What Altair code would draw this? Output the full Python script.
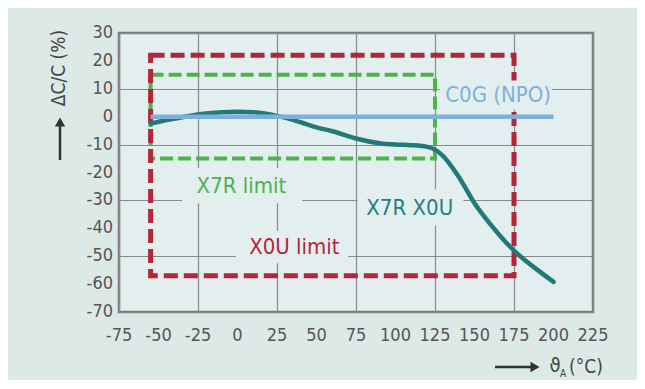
import altair as alt
import pandas as pd

FONT = "'Liberation Sans Narrow', 'DejaVu Sans Condensed', sans-serif"

# X7R X0U capacitance drift curve
temp_x = [-55, -45, -35, -25, -10, 0, 10, 25, 40, 50, 60, 75, 90, 100, 110, 120, 125, 130, 140, 150, 160, 175, 190, 200]
dcc_y = [-2.5, -1.2, -0.2, 0.8, 1.6, 1.8, 1.6, 0.3, -2.0, -3.8, -5.2, -7.8, -9.5, -10.0, -10.2, -10.8, -11.8, -14.0, -21.5, -31.0, -38.5, -48.0, -55.0, -59.2]

# C0G (NPO) line
c0g_x = [-55, 200]
c0g_y = [0, 0]

# limit boxes
x7r_lim_x = [-55, 125]
x7r_lim_y = [-15, 15]
x0u_lim_x = [-55, 175]
x0u_lim_y = [-57, 22]

# labels
label_text = ["C0G (NPO)", "X7R limit", "X7R X0U", "X0U limit"]
label_x = [165, 2.5, 109, 36]
label_y = [7.8, -25.0, -32.6, -46.6]
label_color = ["#7fb0dc", "#4db34a", "#23807e", "#b3263a"]
box_x1 = [128, -35, 76, -1]
box_x2 = [199, 41, 143, 70]
box_y1 = [2.5, -18.5, -26.0, -41.0]
box_y2 = [13.0, -31.0, -39.0, -52.5]

x_ticks = list(range(-75, 226, 25))
y_ticks = list(range(-70, 31, 10))

PLOT_FILL = "#e3eeee"
TICK_COLOR = "#555555"

xs = alt.Scale(domain=[-75, 225], nice=False, zero=False)
ys = alt.Scale(domain=[-70, 30], nice=False, zero=False)

curve_df = pd.DataFrame({"t": temp_x, "d": dcc_y})
c0g_df = pd.DataFrame({"t": c0g_x, "d": c0g_y})
lim_df = pd.DataFrame({
    "name": ["X7R", "X0U"],
    "x1": [x7r_lim_x[0], x0u_lim_x[0]],
    "x2": [x7r_lim_x[1], x0u_lim_x[1]],
    "y1": [x7r_lim_y[0], x0u_lim_y[0]],
    "y2": [x7r_lim_y[1], x0u_lim_y[1]],
})
lab_df = pd.DataFrame({
    "text": label_text, "x": label_x, "y": label_y, "color": label_color,
    "bx1": box_x1, "bx2": box_x2, "by1": box_y1, "by2": box_y2,
})
xt_df = pd.DataFrame({"v": x_ticks})
yt_df = pd.DataFrame({"v": y_ticks})

def X(field):
    return alt.X(field, scale=xs)

def Y(field):
    return alt.Y(field, scale=ys)

base_x = alt.X("t:Q", scale=xs, axis=alt.Axis(values=x_ticks, title=None, labels=False))
base_y = alt.Y("d:Q", scale=ys, axis=alt.Axis(values=y_ticks, title=None, labels=False))

grid = alt.Chart(curve_df).mark_point(opacity=0).encode(x=base_x, y=base_y)

green = alt.Chart(lim_df[lim_df.name == "X7R"]).mark_rect(
    filled=False, stroke="#4db34a", strokeWidth=4, strokeDash=[13, 5]
).encode(x=X("x1:Q"), x2="x2:Q", y=Y("y1:Q"), y2="y2:Q")

red = alt.Chart(lim_df[lim_df.name == "X0U"]).mark_rect(
    filled=False, stroke="#b3263a", strokeWidth=5, strokeDash=[14, 6]
).encode(x=X("x1:Q"), x2="x2:Q", y=Y("y1:Q"), y2="y2:Q")

curve = alt.Chart(curve_df).mark_line(
    color="#217a78", strokeWidth=4.5, interpolate="monotone", strokeCap="round"
).encode(x=X("t:Q"), y=Y("d:Q"))

boxes = alt.Chart(lab_df).mark_rect(fill=PLOT_FILL).encode(
    x=X("bx1:Q"), x2="bx2:Q", y=Y("by1:Q"), y2="by2:Q"
)

c0g = alt.Chart(c0g_df).mark_line(color="#7fb0dc", strokeWidth=4.5).encode(
    x=X("t:Q"), y=Y("d:Q")
)

labels = alt.Chart(lab_df).mark_text(
    font=FONT, fontSize=22, align="center", baseline="middle"
).encode(
    x=X("x:Q"), y=Y("y:Q"), text="text:N",
    color=alt.Color("color:N", scale=None),
)

# tick labels (plain hyphen minus as in the reference)
x_tick_labels = alt.Chart(xt_df).transform_calculate(lbl="'' + datum.v").mark_text(
    font=FONT, fontSize=18, color=TICK_COLOR, align="center", baseline="top"
).encode(x=X("v:Q"), y=alt.value(294), text="lbl:N")

y_tick_labels = alt.Chart(yt_df).transform_calculate(lbl="'' + datum.v").mark_text(
    font=FONT, fontSize=18, color=TICK_COLOR, align="right", baseline="middle"
).encode(y=Y("v:Q"), x=alt.value(-6), text="lbl:N")

one = pd.DataFrame({"a": [0]})

y_title = alt.Chart(one).mark_text(
    text="ΔC/C (%)", font=FONT, fontSize=19, angle=270, color="#444444",
    align="center", baseline="middle"
).encode(x=alt.value(-60), y=alt.value(35))
y_arrow = alt.Chart(one).mark_rule(color="#333333", strokeWidth=2.5).encode(
    x=alt.value(-59), y=alt.value(127), y2=alt.value(92)
)
y_head = alt.Chart(one).mark_point(shape="triangle-up", filled=True, color="#333333", size=110, opacity=1).encode(
    x=alt.value(-59), y=alt.value(89)
)

TY = 334
x_arrow = alt.Chart(one).mark_rule(color="#333333", strokeWidth=2.5).encode(
    x=alt.value(376), x2=alt.value(412), y=alt.value(TY)
)
x_head = alt.Chart(one).mark_point(shape="triangle-right", filled=True, color="#333333", size=110, opacity=1).encode(
    x=alt.value(416), y=alt.value(TY)
)
x_title1 = alt.Chart(one).mark_text(
    text="ϑ", font=FONT, fontSize=20, color="#444444", align="center", baseline="middle"
).encode(x=alt.value(436), y=alt.value(TY - 1))
x_title2 = alt.Chart(one).mark_text(
    text="A", font=FONT, fontSize=10, color="#444444", align="center", baseline="middle"
).encode(x=alt.value(444), y=alt.value(TY + 7))
x_title3 = alt.Chart(one).mark_text(
    text="(°C)", font=FONT, fontSize=19, color="#444444", align="left", baseline="middle"
).encode(x=alt.value(450), y=alt.value(TY))

chart = alt.layer(
    grid, green, red, curve, boxes, c0g, labels, x_tick_labels, y_tick_labels,
    y_title, y_arrow, y_head, x_arrow, x_head, x_title1, x_title2, x_title3,
).properties(
    width=474, height=279,
    autosize=alt.AutoSizeParams(type="none"),
    padding={"left": 111, "top": 25, "right": 44, "bottom": 68},
    background="#dce9e7",
).configure_view(
    fill=PLOT_FILL, stroke="#7a7a7a", strokeWidth=2.5
).configure_axis(
    grid=True, gridColor="#8a8a8a", gridWidth=1.2, gridOpacity=1,
    ticks=False, domain=False,
)

chart.save("out.html", embed_options={"renderer": "svg", "actions": False})
